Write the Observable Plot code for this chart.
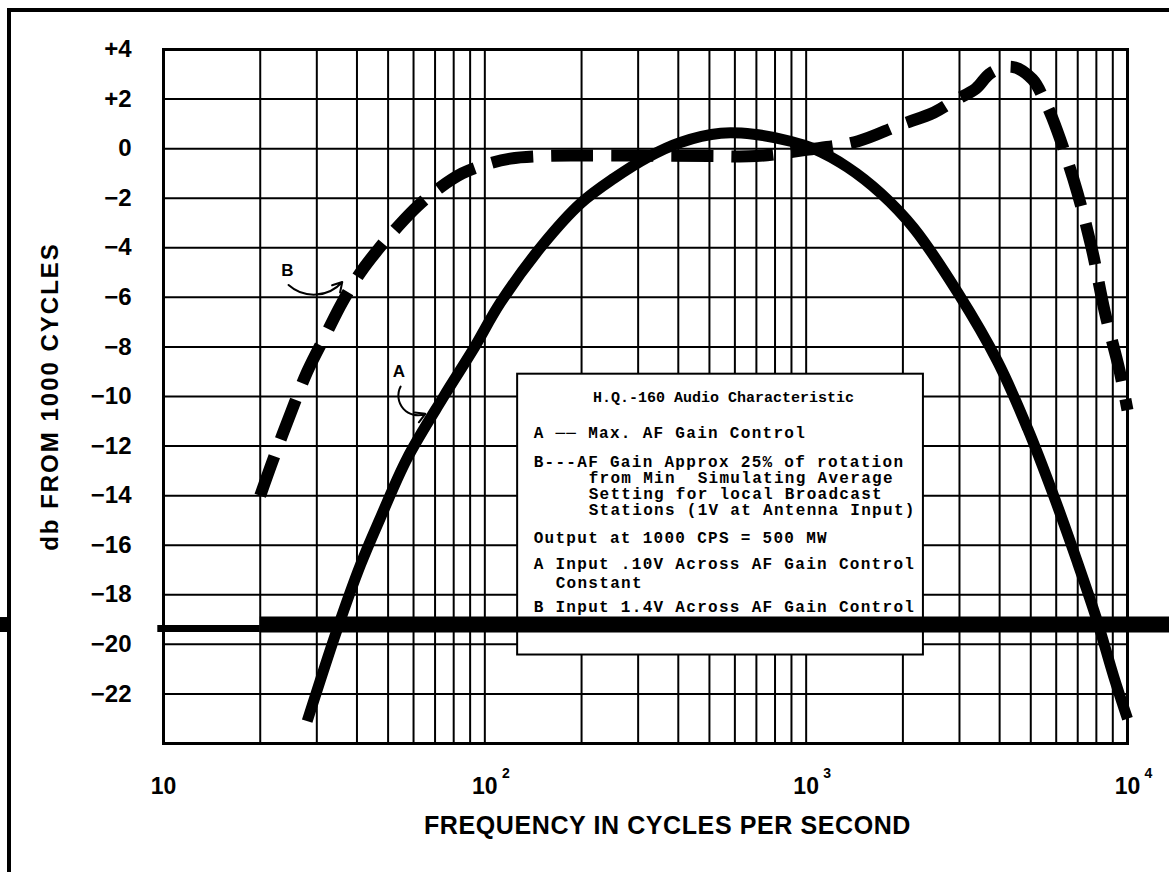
<!DOCTYPE html>
<html>
<head>
<meta charset="utf-8">
<script src="https://cdn.jsdelivr.net/npm/d3@7"></script>
<script src="https://cdn.jsdelivr.net/npm/@observablehq/plot@0.6"></script>
<style>
  html, body { margin: 0; padding: 0; background: #fff; width: 1169px; height: 872px; overflow: hidden; }
  #wrap { position: relative; width: 1169px; height: 872px; }
  #border { position: absolute; left: 7px; top: 8px; width: 1300px; height: 1000px;
            border-top: 4px solid #000; border-left: 4px solid #000; pointer-events: none; }
  svg text { white-space: pre; }
</style>
</head>
<body>
<div id="wrap"><div id="border"></div></div>
<script>
// ---- Data ----
// Curve A: Max. AF Gain Control (solid)
const freqA = [28, 34.7, 41, 47.3, 57.3, 74.5, 92, 112, 151, 199, 252, 321, 406, 542, 686, 893, 1055, 1345, 1706, 2160, 2960, 3945, 4890, 5890, 6990, 8070, 9060, 10000];
const dbA   = [-23.1, -19.4, -16.8, -14.9, -12.5, -10.0, -8.1, -6.2, -3.9, -2.2, -1.2, -0.35, 0.25, 0.62, 0.58, 0.3, 0.0, -0.75, -1.8, -3.2, -5.8, -8.6, -11.3, -14.0, -16.7, -19.1, -21.3, -23.0];
// Curve B: AF Gain approx 25% of rotation (dashed)
const freqB = [20, 22, 25, 28, 32, 36, 41, 47, 54, 62, 72, 85, 100, 120, 150, 200, 300, 500, 700, 1000, 1450, 1945, 2500, 2900, 3370, 3750, 4375, 5060, 5490, 5830, 6790, 7710, 8500, 9440, 10000];
const dbB   = [-14.0, -12.5, -10.6, -9.0, -7.5, -6.2, -5.0, -4.0, -3.1, -2.3, -1.6, -1.0, -0.65, -0.4, -0.3, -0.28, -0.28, -0.3, -0.3, -0.05, 0.3, 0.94, 1.46, 1.95, 2.42, 3.05, 3.3, 2.8, 2.0, 1.25, -1.24, -3.93, -6.59, -8.94, -10.55];

// Tick labels
const xTickValues = [10, 100, 1000, 10000];
const xTickLabels = ["10", "10", "10", "10"];
const xTickExponents = ["", "2", "3", "4"];
const yTickValues = [4, 2, 0, -2, -4, -6, -8, -10, -12, -14, -16, -18, -20, -22];
const yTickLabels = ["+4", "+2", "0", "\u22122", "\u22124", "\u22126", "\u22128", "\u221210", "\u221212", "\u221214", "\u221216", "\u221218", "\u221220", "\u221222"];

// Axis titles
const xTitle = "FREQUENCY IN CYCLES PER SECOND";
const yTitle = "db FROM 1000 CYCLES";

// Curve annotations (label position, arrow from -> to)
const annotations = [
  {label: "B", f: 24.3, db: -4.91, f1: 24.5, db1: -5.5, f2: 36, db2: -5.38, bend: -45},
  {label: "A", f: 54, db: -9.0, f1: 54.7, db1: -9.6, f2: 65.3, db2: -10.7, bend: -70}
];

// Legend box (in data units) and its lines
const legendBox = [{f1: 126.5, f2: 2317, db1: -9.1, db2: -20.43}];
const legendTitle = "H.Q.-160 Audio Characteristic";
const legendLines = [
  "A \u2500\u2500 Max. AF Gain Control",
  "B---AF Gain Approx 25% of rotation",
  "from Min  Simulating Average",
  "Setting for local Broadcast",
  "Stations (1V at Antenna Input)",
  "Output at 1000 CPS = 500 MW",
  "A Input .10V Across AF Gain Control",
  "Constant",
  "B Input 1.4V Across AF Gain Control",
  "Constant"
];
const legendIndent = [16, 16, 71, 71, 71, 16, 16, 38, 16, 38];
const legendOffset = [59, 88, 104, 120, 136, 164, 190, 209, 233, 253];

// Scanning artefact: heavy horizontal bar across the sheet
const artefact = [
  {f1: 20, f2: 13520, db: -19.2, w: 16},
  {f1: 9.6, f2: 20, db: -19.36, w: 7},
  {f1: 3.05, f2: 3.3, db: -19.2, w: 15}
];

// ---- Build ----
const A = freqA.map((f, i) => ({f, db: dbA[i]}));
const B = freqB.map((f, i) => ({f, db: dbB[i]}));
const xGrid = [];
for (let e = 1; e < 4; e++) for (let m = 1; m < 10; m++) xGrid.push(m * Math.pow(10, e));
xGrid.push(10000);
const yGrid = d3.range(-24, 5, 2);

const legendMarks = legendLines.map((t, i) =>
  Plot.text(legendBox, {x: "f1", y: "db1", text: () => t, dx: legendIndent[i], dy: legendOffset[i],
    textAnchor: "start", lineAnchor: "middle", fontFamily: "Liberation Mono", fontWeight: "bold", fontSize: 16,
    fill: "black", ariaDescription: "legend-line"})
);

const chart = Plot.plot({
  width: 1169,
  height: 872,
  marginTop: 49,
  marginBottom: 129,
  marginLeft: 163,
  marginRight: 42,
  style: {fontFamily: "Liberation Sans", background: "transparent", color: "black", overflow: "visible"},
  x: {type: "log", domain: [10, 10000]},
  y: {domain: [-24, 4]},
  marks: [
    Plot.ruleX(xGrid, {stroke: "black", strokeWidth: 2}),
    Plot.ruleY(yGrid, {stroke: "black", strokeWidth: 2}),
    Plot.frame({stroke: "black", strokeWidth: 3}),
    Plot.line(B, {x: "f", y: "db", stroke: "black", strokeWidth: 12, strokeDasharray: "42,18", strokeLinecap: "butt", curve: "catmull-rom"}),
    Plot.line(A, {x: "f", y: "db", stroke: "black", strokeWidth: 11, strokeLinecap: "butt", curve: "catmull-rom"}),
    ...annotations.map(a => Plot.arrow([a], {x1: "f1", y1: "db1", x2: "f2", y2: "db2", bend: a.bend, stroke: "black", strokeWidth: 2, headLength: 8})),
    Plot.text(annotations, {x: "f", y: "db", text: "label", fontSize: 17, fontWeight: "bold", fill: "black"}),
    Plot.axisY({ticks: yTickValues, tickFormat: d => yTickLabels[yTickValues.indexOf(d)], tickSize: 0, tickPadding: 32, fontSize: 24, fontWeight: "bold", label: null}),
    Plot.axisX({ticks: xTickValues, tickFormat: d => xTickLabels[xTickValues.indexOf(d)], tickSize: 0, tickPadding: 34, fontSize: 23, fontWeight: "bold", label: null}),
    Plot.text(xTickValues, {x: d => d, text: (d, i) => xTickExponents[i], frameAnchor: "bottom", dy: 34, dx: 21, fontSize: 14, fontWeight: "bold", fill: "black"}),
    Plot.text([xTitle], {frameAnchor: "bottom", textAnchor: "middle", dy: 90, dx: 22, fontSize: 25, fontWeight: "bold", fill: "black", ariaDescription: "x-title"}),
    Plot.text([yTitle], {frameAnchor: "left", textAnchor: "middle", rotate: -90, dx: -113, fontSize: 24, fontWeight: "bold", fill: "black", ariaDescription: "y-title"}),
    Plot.rect(legendBox, {x1: "f1", x2: "f2", y1: "db1", y2: "db2", fill: "white", stroke: "black", strokeWidth: 2}),
    Plot.text(legendBox, {x: d => Math.sqrt(d.f1 * d.f2), y: "db1", text: () => legendTitle, dx: 3, dy: 23, fontFamily: "Liberation Mono", fontWeight: "bold", fontSize: 15, fill: "black"}),
    ...legendMarks,
    Plot.ruleY(artefact, {x1: "f1", x2: "f2", y: "db", strokeWidth: "w", stroke: "black"})
  ]
});
// letter spacing tweaks (Plot has no letterSpacing option)
const spacing = {"legend-line": "1.3px", "y-title": "2px", "x-title": "0.6px"};
chart.querySelectorAll("g[aria-description]").forEach(g => {
  const s = spacing[g.getAttribute("aria-description")];
  if (s) g.querySelectorAll("text").forEach(t => t.style.letterSpacing = s);
});
chart.style.position = "absolute";
chart.style.left = "0px";
chart.style.top = "0px";
document.getElementById("wrap").appendChild(chart);
</script>
</body>
</html>
